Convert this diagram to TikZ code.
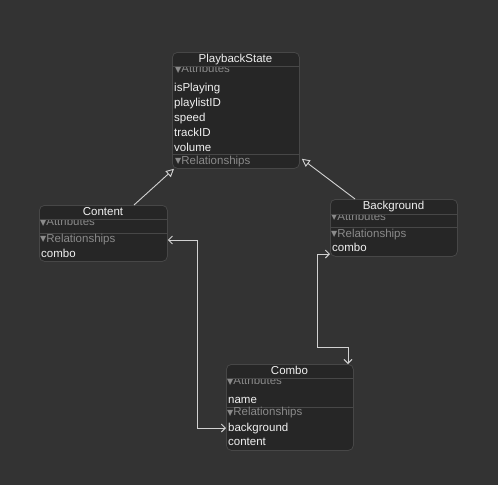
\documentclass[tikz,border=0pt]{standalone}
\usepackage{fontspec}
\setmainfont{Liberation Sans}
\newfontfamily\symfont{DejaVu Sans}
\usetikzlibrary{arrows.meta,calc}
\definecolor{bgc}{HTML}{333333}
\definecolor{boxc}{HTML}{262626}
\definecolor{linec}{HTML}{474747}
\definecolor{hdrc}{HTML}{8A8A8A}
\definecolor{txtc}{HTML}{F0F0F0}
\definecolor{conc}{HTML}{D2D2D2}
\newcommand{\tri}{{\symfont\fontsize{8}{8}\selectfont\raisebox{0.3pt}{▼}}}
\begin{document}
\begin{tikzpicture}[x=1pt,y=-1pt,
  entity/.style={draw=linec, fill=boxc, rounded corners=5pt, anchor=north west, inner sep=0, line width=0.8pt},
  item/.style={anchor=base west, inner sep=0, text=txtc, font=\fontsize{11.5}{13}\selectfont},
  hdr/.style={anchor=base west, inner sep=0, text=hdrc, font=\fontsize{11.5}{13}\selectfont},
  ttl/.style={anchor=base, inner sep=0, text=txtc, font=\fontsize{11.5}{13}\selectfont},
  sep/.style={draw=linec, line width=0.8pt},
  rel/.style={draw=conc, line width=0.9pt, {Straight Barb[length=4pt,width=8pt]}-{Straight Barb[length=4pt,width=8pt]}},
  inh/.style={draw=conc, line width=0.9pt, -{Triangle[open,length=8pt,width=8pt,fill=bgc]}}
]
\fill[bgc] (0,0) rectangle (498,485);
\useasboundingbox (0,0) rectangle (498,485);

% PlaybackState
\node[entity, minimum width=127pt, minimum height=116pt] (pb) at (172,52) {};
\node[ttl] (pbt) at (235.5,62) {PlaybackState};
\begin{scope}
\clip (172,66) rectangle (299,154);
\node[hdr] (pba) at (175,72.5) {\tri Attributes};
\end{scope}
\draw[sep] (172,66) -- (299,66);
\node[item] (pb1) at (174,91) {isPlaying};
\node[item] (pb2) at (174,106) {playlistID};
\node[item] (pb3) at (174,121) {speed};
\node[item] (pb4) at (174,136) {trackID};
\node[item] (pb5) at (174,151) {volume};
\draw[sep] (172,154) -- (299,154);
\node[hdr] (pbr) at (175,164) {\tri Relationships};

% Content
\node[entity, minimum width=128pt, minimum height=56pt] (ct) at (39,205) {};
\node[ttl] (ctt) at (103,215.5) {Content};
\begin{scope}
\clip (39,219) rectangle (167,233);
\node[hdr] (cta) at (40,225.5) {\tri Attributes};
\end{scope}
\draw[sep] (39,219) -- (167,219);
\draw[sep] (39,233) -- (167,233);
\node[hdr] (ctr) at (40,242) {\tri Relationships};
\node[item] (ct1) at (41,257) {combo};

% Background
\node[entity, minimum width=127pt, minimum height=57pt] (bg) at (330,199) {};
\node[ttl] (bgt) at (393.5,209.5) {Background};
\begin{scope}
\clip (330,214) rectangle (457,227);
\node[hdr] (bga) at (331,220) {\tri Attributes};
\end{scope}
\draw[sep] (330,214) -- (457,214);
\draw[sep] (330,227) -- (457,227);
\node[hdr] (bgr) at (331,237) {\tri Relationships};
\node[item] (bg1) at (332,251.5) {combo};

% Combo
\node[entity, minimum width=127pt, minimum height=86pt] (cb) at (226,364) {};
\node[ttl] (cbt) at (289.5,374.5) {Combo};
\begin{scope}
\clip (226,378) rectangle (353,407);
\node[hdr] (cba) at (227,384.5) {\tri Attributes};
\end{scope}
\draw[sep] (226,378) -- (353,378);
\node[item] (cb1) at (228,403) {name};
\draw[sep] (226,407) -- (353,407);
\node[hdr] (cbr) at (227,415.5) {\tri Relationships};
\node[item] (cb2) at (228,431) {background};
\node[item] (cb3) at (228,445.5) {content};

% inheritance connectors
\draw[inh] ($(ct.north west)+(95,0)$) -- ($(pb.south west)+(2,0)$);
\draw[inh] ($(bg.north west)+(25,0)$) -- ($(pb.south east)+(2,-10)$);

% relationships
\draw[rel] ($(ct.north east)+(0,35)$) -- ++(30,0) |- ($(cb.north west)+(0,64)$);
\draw[rel] ($(bg.north west)+(0,55)$) -- ++(-13,0) |- ($(cb.north west)+(122,-17)$) -- ($(cb.north west)+(122,0)$);
\end{tikzpicture}
\end{document}
